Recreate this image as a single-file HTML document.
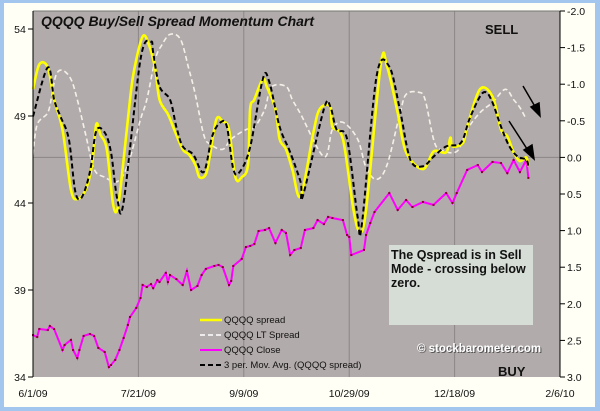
<!DOCTYPE html>
<html><head><meta charset="utf-8"><style>
html,body{margin:0;padding:0;}
body{width:600px;height:411px;background:#a3c6ee;position:relative;overflow:hidden;font-family:"Liberation Sans",Arial,sans-serif;}
svg{position:absolute;left:0;top:0;}
</style></head><body>
<svg width="600" height="411" viewBox="0 0 600 411">
<rect x="4" y="3" width="591" height="404" fill="#fffff6"/>
<rect x="33" y="11" width="527" height="366" fill="#b2abab"/>
<g id="grid"></g>
<g id="series"></g>
<g id="axes"></g>
<text x="41" y="26" font-size="14" font-weight="bold" font-style="italic" fill="#111">QQQQ Buy/Sell Spread Momentum Chart</text>
<text x="485" y="34" font-size="13" font-weight="bold" fill="#111">SELL</text>
<text x="498" y="376" font-size="13" font-weight="bold" fill="#111">BUY</text>
<g stroke="#000" stroke-width="1.5">
<line x1="523" y1="86" x2="537" y2="110"/><polygon points="540,116 531,107 539,103" fill="#000"/>
<line x1="509" y1="121" x2="529" y2="152"/><polygon points="534,159 524,150 532,145" fill="#000"/>
</g>
<rect x="389" y="245" width="144" height="80" fill="#d6ddd6"/>
<text font-size="12.5" font-weight="bold" fill="#111">
<tspan x="391" y="259">The Qspread is in Sell</tspan><tspan x="391" y="273">Mode - crossing below</tspan><tspan x="391" y="287">zero.</tspan></text>
<text x="418" y="353" font-size="11.5" font-weight="bold" fill="#555">© stockbarometer.com</text>
<text x="417" y="352" font-size="11.5" font-weight="bold" fill="#fff">© stockbarometer.com</text>
<g font-size="9.5" fill="#111">
<line x1="200" y1="320" x2="222" y2="320" stroke="#ffff00" stroke-width="2.5"/>
<text x="224" y="323">QQQQ spread</text>
<line x1="200" y1="335" x2="222" y2="335" stroke="#fff" stroke-width="1.5" stroke-dasharray="5,3"/>
<text x="224" y="338">QQQQ LT Spread</text>
<line x1="200" y1="350" x2="222" y2="350" stroke="#ff00ff" stroke-width="2"/>
<text x="224" y="353">QQQQ Close</text>
<line x1="200" y1="365" x2="222" y2="365" stroke="#000" stroke-width="2" stroke-dasharray="5,3"/>
<text x="224" y="368">3 per. Mov. Avg. (QQQQ spread)</text>
</g>
</svg>
<script>
const yellowDays=[0,3,7,10,14,18,21,25,28,30,32,35,38,40,42,46,48,52,55,58,60,64,67,71,74,77,79,82,84,87,90,93,96,99,102,103,105,109,111,115,117,120,123,127,133,136,141,142,147,152,155,158,165,168,173,177,185,190,196,198,199,204,206,212,218,222,225,228,231,234,235];
const yellowVals=[-0.93,-1.27,-1.23,-0.79,-0.38,0.44,0.57,0.44,0.10,-0.45,-0.31,-0.11,0.64,0.71,0.30,-0.79,-1.20,-1.65,-1.54,-1.20,-0.79,-0.59,-0.38,-0.11,-0.04,0.10,0.27,0.23,-0.04,-0.52,-0.49,-0.38,0.27,0.27,0.10,-0.66,-0.79,-1.07,-0.96,-0.66,-0.25,-0.11,0.16,0.53,-0.34,-0.66,-0.70,-0.42,-0.25,0.71,1.01,0.71,-1.27,-1.24,-0.61,-0.07,0.16,-0.08,-0.07,-0.27,-0.15,-0.20,-0.42,-0.93,-0.83,-0.38,-0.29,-0.07,0.05,0.00,0.12];
const maDays=[0,7,10,13,17,20,23,27,30,34,37,40,43,51,56,57,60,65,68,71,76,81,85,89,92,95,98,103,109,112,117,122,127,128,138,141,144,149,154,156,163,169,174,179,185,190,196,203,207,212,215,218,222,226,230,234,235];
const maVals=[-0.56,-1.23,-0.79,-0.56,-0.25,0.46,0.55,0.20,-0.36,-0.34,-0.07,0.57,0.61,-1.34,-1.58,-1.43,-0.97,-0.79,-0.42,-0.15,-0.04,0.20,-0.29,-0.48,-0.42,0.16,0.20,-0.14,-1.07,-1.04,-0.42,-0.07,0.34,0.53,-0.66,-0.70,-0.38,-0.25,0.81,0.92,-1.11,-1.24,-0.66,0.03,0.12,-0.01,-0.15,-0.20,-0.52,-0.83,-0.89,-0.75,-0.42,-0.15,-0.01,0.03,0.12];
const ltDays=[0,2,7,9,11,14,18,21,25,29,34,40,45,51,54,58,61,65,70,74,77,81,84,90,94,101,105,110,113,120,123,127,138,142,147,154,158,163,168,174,177,183,186,190,193,201,206,212,218,224,228,231,234];
const ltVals=[-0.04,-0.45,-0.61,-0.86,-1.13,-1.19,-1.07,-0.79,-0.31,0.16,0.27,0.33,0.10,-0.52,-0.79,-1.34,-1.53,-1.68,-1.61,-1.20,-0.86,-0.31,-0.18,-0.11,-0.25,-0.38,-0.41,-0.66,-0.96,-0.97,-0.79,-0.59,-0.01,-0.38,-0.48,-0.25,0.14,0.30,0.10,-0.59,-0.86,-0.89,-0.79,-0.25,-0.11,-0.08,-0.38,-0.61,-0.75,-0.93,-0.79,-0.68,-0.52];
const closeDays=[0,2,3,7,8,10,14,15,18,19,21,22,24,27,29,31,34,36,37,39,41,43,45,46,49,51,52,54,56,57,59,60,63,64,65,68,71,73,75,78,80,82,86,88,90,93,94,95,99,101,103,105,107,110,112,115,118,120,122,124,127,129,133,135,138,140,142,147,149,150,151,157,158,160,162,169,173,177,180,185,190,196,199,201,206,211,213,218,222,225,228,231,234,235];
const closeVals=[36.41,36.30,36.76,36.70,36.93,36.76,35.55,35.84,36.13,35.55,35.09,35.55,36.36,36.47,36.36,35.67,35.44,34.57,34.69,34.98,35.55,36.24,36.99,37.45,37.97,38.54,39.29,39.17,39.34,39.11,39.57,39.46,39.98,39.46,39.86,39.63,39.29,40.09,39.00,39.23,39.86,40.21,40.38,40.44,40.32,39.29,39.52,40.38,40.78,41.47,41.53,41.64,42.39,42.45,42.56,41.70,42.45,42.28,41.01,41.30,41.41,42.45,42.56,43.02,42.79,43.20,43.14,43.02,42.16,42.05,41.01,41.30,42.16,42.85,43.48,44.57,43.60,44.17,43.77,44.06,43.89,44.57,44.00,44.57,45.90,46.18,45.78,46.36,46.30,45.72,46.47,45.78,46.47,45.44];
const leftTicks=[54,49,44,39,34];
const rightTicks=[-2.0,-1.5,-1.0,-0.5,0.0,0.5,1.0,1.5,2.0,2.5,3.0];
const xTickDays=[0,50,100,150,200,250];
const xTickLabels=["6/1/09","7/21/09","9/9/09","10/29/09","12/18/09","2/6/10"];

const NS="http://www.w3.org/2000/svg";
const X0=33,X1=560,Y0=11,Y1=377;
function xs(d){return X0+d*(X1-X0)/250;}
function yl(p){return Y1-(p-34)*(Y1-29)/20;}
function yr(v){return Y0+(v+2)*(Y1-Y0)/5;}
function mk(tag,attrs,parent){const e=document.createElementNS(NS,tag);for(const k in attrs)e.setAttribute(k,attrs[k]);parent.appendChild(e);return e;}
const grid=document.getElementById('grid'),ser=document.getElementById('series'),ax=document.getElementById('axes');

xTickDays.forEach((d,i)=>{
  if(i>0&&i<xTickDays.length-1){const g=mk('line',{x1:xs(d),x2:xs(d),y1:Y0,y2:Y1,stroke:'#8c8686','stroke-width':1},grid);
  
  }
  const t=mk('text',{x:xs(d),y:397,'font-size':10.5,'text-anchor':'middle',fill:'#111'},ax);
  t.textContent=xTickLabels[i];
  
  
});
const zl=mk('line',{x1:X0,x2:X1,y1:yr(0),y2:yr(0),stroke:'#8c8686','stroke-width':1},grid);


const topl=mk('line',{x1:X0,x2:X1,y1:Y0,y2:Y0,stroke:'#777','stroke-width':1},grid);



function path(days,vals,yf){return days.map((d,i)=>(i?'L':'M')+xs(d).toFixed(1)+','+yf(vals[i]).toFixed(1)).join(' ');}
function smooth(days,vals,yf){
  const p=days.map((d,i)=>[xs(d),yf(vals[i])]);
  let s='M'+p[0][0].toFixed(1)+','+p[0][1].toFixed(1);
  for(let i=0;i<p.length-1;i++){
    const a=p[Math.max(i-1,0)],b=p[i],c=p[i+1],e=p[Math.min(i+2,p.length-1)];
    const c1=[b[0]+(c[0]-a[0])/6,b[1]+(c[1]-a[1])/6],c2=[c[0]-(e[0]-b[0])/6,c[1]-(e[1]-b[1])/6];
    s+=' C'+c1[0].toFixed(1)+','+c1[1].toFixed(1)+' '+c2[0].toFixed(1)+','+c2[1].toFixed(1)+' '+c[0].toFixed(1)+','+c[1].toFixed(1);
  }
  return s;
}
const lt=mk('path',{d:smooth(ltDays,ltVals,yr),fill:'none',stroke:'#f4f0e8','stroke-width':1.6,'stroke-dasharray':'5,3'},ser);


const cl=mk('path',{d:path(closeDays,closeVals,yl),fill:'none',stroke:'#ff00ff','stroke-width':2},ser);


closeDays.forEach((d,i)=>{const c=mk('rect',{x:xs(d)-1,y:yl(closeVals[i])-1,width:2,height:2,fill:'#8b0030'},ser);

});
const yw=mk('path',{d:smooth(yellowDays,yellowVals,yr),fill:'none',stroke:'#ffff00','stroke-width':2.6,'stroke-linejoin':'round'},ser);


const ma=mk('path',{d:smooth(maDays,maVals,yr),fill:'none',stroke:'#000','stroke-width':2,'stroke-dasharray':'5,3'},ser);



const la=mk('line',{x1:X0,x2:X0,y1:Y0,y2:Y1,stroke:'#000','stroke-width':1},ax);


const ra=mk('line',{x1:X1,x2:X1,y1:Y0,y2:Y1,stroke:'#000','stroke-width':1},ax);


leftTicks.forEach(p=>{mk('line',{x1:X0-5,x2:X0,y1:yl(p),y2:yl(p),stroke:'#000'},ax);
  const t=mk('text',{x:20,y:yl(p)+4,'font-size':10.5,'text-anchor':'middle',fill:'#111'},ax);
  t.textContent=p;
  
  });
rightTicks.forEach(v=>{mk('line',{x1:X1,x2:X1+5,y1:yr(v),y2:yr(v),stroke:'#000'},ax);
  const t=mk('text',{x:567,y:yr(v)+4,'font-size':10.5,fill:'#111'},ax);
  t.textContent=v.toFixed(1);
  
  });
</script>
</body></html>
